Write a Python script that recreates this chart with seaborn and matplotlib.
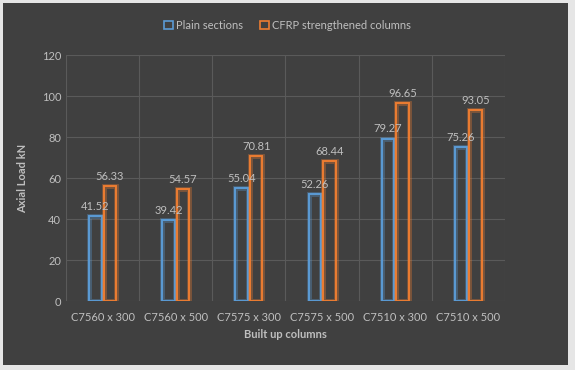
import pandas as pd
import matplotlib.pyplot as plt
import matplotlib.patheffects as pe
from matplotlib.patches import Rectangle
import seaborn as sns

# data
columns = ['C7560 x 300', 'C7560 x 500', 'C7575 x 300', 'C7575 x 500', 'C7510 x 300', 'C7510 x 500']
plain = [41.52, 39.42, 55.04, 52.26, 79.27, 75.26]
cfrp = [56.33, 54.57, 70.81, 68.44, 96.65, 93.05]
series = ['Plain sections', 'CFRP strengthened columns']

df = pd.DataFrame({
    'col': columns * 2,
    'load': plain + cfrp,
    'type': [series[0]] * 6 + [series[1]] * 6,
})

bg = '#404040'
txt = '#bfbfbf'
grid_c = '#5a5a5a'
pal = {series[0]: '#5b9bd5', series[1]: '#ed7d31'}

sns.set_theme(style='dark')
plt.rcParams['font.family'] = ['Lato', 'DejaVu Sans']

fig = plt.figure(figsize=(5.75, 3.7), dpi=100)
fig.patch.set_facecolor('#e6e6e6')
# dark chart area with a thin light frame around it
fig.patches.append(Rectangle((3 / 575, 5 / 370), 565 / 575, 362 / 370,
                             transform=fig.transFigure, facecolor=bg,
                             edgecolor='none', zorder=-1))
ax = fig.add_axes([0.115, 0.186, 0.763, 0.665])
ax.set_facecolor(bg)

sns.barplot(data=df, x='col', y='load', hue='type', palette=pal,
            fill=False, width=0.4, gap=0.15, linewidth=1.4, ax=ax,
            legend=False)

for cont, name in zip(ax.containers, series):
    c = pal[name]
    for p in cont:
        p.set_edgecolor(c)
        p.set_path_effects([pe.Stroke(linewidth=3.5, foreground=c, alpha=0.35), pe.Normal()])
    ax.bar_label(cont, fmt='%.2f', padding=3, color=txt, fontsize=8)

ax.set_ylim(0, 120)
ax.set_yticks(range(0, 121, 20))
ax.set_xlim(-0.5, 5.5)
ax.set_xticks([i - 0.5 for i in range(7)], minor=True)
ax.grid(False)
ax.yaxis.grid(True, color=grid_c, linewidth=0.8)
ax.xaxis.grid(True, which='minor', color=grid_c, linewidth=0.8)
ax.set_axisbelow(True)
for s in ax.spines.values():
    s.set_visible(False)
ax.tick_params(axis='both', which='both', length=0, colors=txt, labelsize=8)
ax.tick_params(axis='x', pad=8)

ax.set_xlabel('Built up columns', color=txt, fontsize=8, fontweight='bold', labelpad=4)
ax.set_ylabel('Axial Load kN', color=txt, fontsize=8, fontweight='bold', labelpad=10)

handles = [Rectangle((0, 0), 1, 1, facecolor='none', edgecolor=pal[s], linewidth=1.2) for s in series]
fig.legend(handles, series, loc='center', bbox_to_anchor=(0.5, 0.932), ncol=2,
           frameon=False, fontsize=8, labelcolor=txt, handlelength=0.8,
           handleheight=0.8, handletextpad=0.3, columnspacing=1.5)

plt.savefig('out.png', dpi=100, facecolor=fig.get_facecolor())
